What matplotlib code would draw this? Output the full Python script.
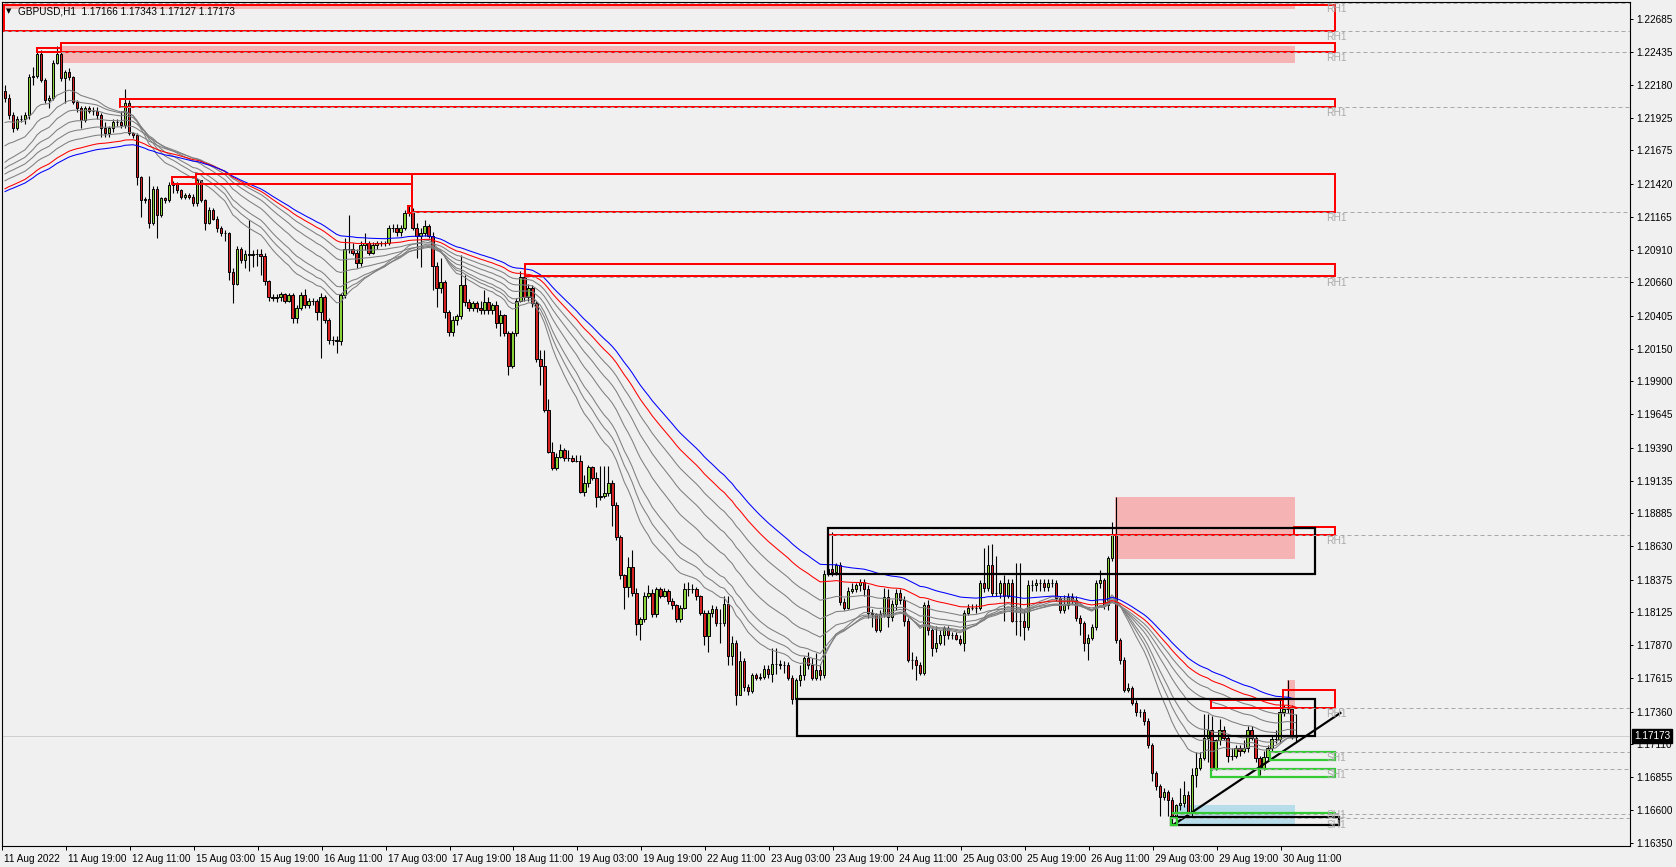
import numpy as np
import matplotlib
matplotlib.use("Agg")
import matplotlib.pyplot as plt
from matplotlib.patches import Rectangle
from matplotlib.transforms import blended_transform_factory, ScaledTranslation

plt.rcParams['font.family'] = ['Liberation Sans', 'DejaVu Sans']

# ---------------- data (GBPUSD H1, bar index 0 = 11 Aug 03:00) ----------------
first_open = 1.2213
closes = [
1.2208,1.2195,1.2185,1.2192,1.2192,1.2195,1.2224,1.2225,1.2242,1.2222,
1.2206,1.2208,1.2235,1.2242,1.2223,1.2228,1.2224,1.2205,1.2200,1.2191,
1.2200,1.2198,1.2198,1.2195,1.2185,1.2181,1.2185,1.2189,1.2189,1.2187,
1.2204,1.2181,1.2179,1.2147,1.2129,1.2130,1.2112,1.2138,1.2118,1.2131,
1.2129,1.2141,1.2142,1.2137,1.2132,1.2133,1.2132,1.2127,1.2145,1.2129,
1.2112,1.2122,1.2115,1.2108,1.2104,1.2104,1.2074,1.2065,1.2092,1.2083,
1.2088,1.2087,1.2088,1.2088,1.2086,1.2067,1.2055,1.2054,1.2055,1.2057,
1.2052,1.2056,1.2039,1.2046,1.2056,1.2049,1.2052,1.2052,1.2043,1.2055,
1.2037,1.2022,1.2022,1.2021,1.2056,1.2092,1.2092,1.2089,1.2081,1.2095,
1.2096,1.2089,1.2095,1.2096,1.2096,1.2096,1.2108,1.2108,1.2105,1.2108,
1.2119,1.2120,1.2108,1.2102,1.2104,1.2109,1.2102,1.2079,1.2062,1.2066,
1.2043,1.2028,1.2037,1.2040,1.2064,1.2051,1.2046,1.2050,1.2046,1.2045,
1.2051,1.2045,1.2049,1.2035,1.2041,1.2027,1.2002,1.2027,1.2052,1.2070,
1.2055,1.2062,1.2050,1.2007,1.2002,1.1968,1.1936,1.1923,1.1932,1.1937,
1.1931,1.1931,1.1929,1.1929,1.1905,1.1912,1.1924,1.1916,1.1901,1.1902,
1.1904,1.1912,1.1895,1.1870,1.1841,1.1832,1.1847,1.1827,1.1803,1.1807,
1.1825,1.1827,1.1811,1.1830,1.1825,1.1829,1.1821,1.1818,1.1807,1.1816,
1.1830,1.1830,1.1830,1.1825,1.1812,1.1794,1.1812,1.1815,1.1804,1.1804,
1.1819,1.1779,1.1789,1.1749,1.1775,1.1755,1.1752,1.1764,1.1762,1.1763,
1.1769,1.1765,1.1773,1.1773,1.1772,1.1772,1.1762,1.1746,1.1760,1.1764,
1.1777,1.1772,1.1762,1.1768,1.1764,1.1842,1.1846,1.1843,1.1849,1.1820,
1.1816,1.1829,1.1830,1.1833,1.1836,1.1830,1.1812,1.1811,1.1799,1.1811,
1.1824,1.1809,1.1819,1.1827,1.1822,1.1806,1.1776,1.1776,1.1772,1.1766,
1.1818,1.1799,1.1785,1.1789,1.1795,1.1800,1.1795,1.1795,1.1792,1.1789,
1.1812,1.1816,1.1816,1.1816,1.1835,1.1831,1.1849,1.1827,1.1827,1.1835,
1.1825,1.1835,1.1806,1.1806,1.1806,1.1801,1.1833,1.1833,1.1835,1.1835,
1.1832,1.1835,1.1835,1.1823,1.1814,1.1818,1.1824,1.1822,1.1808,1.1804,
1.1789,1.1793,1.1801,1.1835,1.1837,1.1818,1.1854,1.1872,1.1791,1.1776,
1.1753,1.1754,1.1743,1.1736,1.1736,1.1729,1.1710,1.1689,1.1679,1.1670,
1.1674,1.1668,1.1654,1.1664,1.1666,1.1672,1.1658,1.1687,1.1693,1.1700,
1.1716,1.1722,1.1692,1.1714,1.1722,1.1716,1.1702,1.1702,1.1708,1.1706,
1.1708,1.1722,1.1716,1.1700,1.1693,1.1701,1.1708,1.1715,1.1715,1.1736,
1.1738,1.1738,1.17166,1.17173]
highs = [
1.2218,1.2211,1.2197,1.2194,1.2195,1.2197,1.2226,1.2232,1.2245,1.2245,
1.2223,1.2210,1.2237,1.2248,1.2244,1.2229,1.2231,1.2225,1.2206,1.2202,
1.2202,1.2202,1.2201,1.2201,1.2196,1.2189,1.2186,1.2192,1.2192,1.2198,
1.2215,1.2206,1.2182,1.2181,1.2148,1.2132,1.2148,1.2140,1.2140,1.2132,
1.2132,1.2143,1.2144,1.2143,1.2138,1.2135,1.2135,1.2134,1.2146,1.2145,
1.2130,1.2124,1.2123,1.2117,1.2109,1.2106,1.2105,1.2077,1.2094,1.2093,
1.2091,1.2114,1.2091,1.2092,1.2092,1.2089,1.2068,1.2057,1.2057,1.2059,
1.2058,1.2058,1.2058,1.2049,1.2059,1.2061,1.2054,1.2054,1.2053,1.2058,
1.2056,1.2039,1.2025,1.2025,1.2058,1.2100,1.2118,1.2096,1.2092,1.2098,
1.2104,1.2098,1.2097,1.2098,1.2098,1.2098,1.2110,1.2111,1.2111,1.2110,
1.2122,1.2125,1.2123,1.2112,1.2108,1.2114,1.2111,1.2105,1.2082,1.2085,
1.2068,1.2045,1.2040,1.2042,1.2087,1.2072,1.2053,1.2052,1.2052,1.2052,
1.2060,1.2055,1.2050,1.2052,1.2045,1.2042,1.2029,1.2029,1.2054,1.2075,
1.2077,1.2065,1.2064,1.2052,1.2014,1.2014,1.1976,1.1943,1.1935,1.1942,
1.1939,1.1937,1.1933,1.1933,1.1933,1.1918,1.1926,1.1925,1.1920,1.1925,
1.1925,1.1925,1.1914,1.1897,1.1872,1.1842,1.1855,1.1860,1.1831,1.1809,
1.1828,1.1833,1.1830,1.1832,1.1832,1.1831,1.1830,1.1823,1.1819,1.1818,
1.1835,1.1836,1.1834,1.1832,1.1826,1.1814,1.1814,1.1818,1.1817,1.1815,
1.1825,1.1825,1.1794,1.1791,1.1783,1.1777,1.1757,1.1766,1.1766,1.1766,
1.1772,1.1772,1.1785,1.1785,1.1776,1.1775,1.1774,1.1764,1.1762,1.1772,
1.1779,1.1782,1.1777,1.1781,1.1773,1.1845,1.1874,1.1874,1.1850,1.1851,
1.1823,1.1832,1.1835,1.1835,1.1838,1.1838,1.1833,1.1815,1.1812,1.1814,
1.1831,1.1830,1.1822,1.1830,1.1830,1.1825,1.1808,1.1782,1.1779,1.1774,
1.1820,1.1822,1.1800,1.1802,1.1799,1.1802,1.1802,1.1797,1.1797,1.1795,
1.1814,1.1819,1.1819,1.1819,1.1837,1.1862,1.1864,1.1865,1.1856,1.1837,
1.1841,1.1838,1.1838,1.1850,1.1850,1.1814,1.1837,1.1837,1.1838,1.1838,
1.1838,1.1838,1.1838,1.1837,1.1825,1.1826,1.1827,1.1827,1.1825,1.1810,
1.1806,1.1796,1.1803,1.1837,1.1845,1.1839,1.1856,1.1882,1.1901,1.1793,
1.1778,1.1758,1.1756,1.1745,1.1738,1.1738,1.1731,1.1712,1.1690,1.1680,
1.1677,1.1676,1.1670,1.1665,1.1677,1.1683,1.1675,1.1693,1.1705,1.1705,
1.1734,1.1734,1.1733,1.1715,1.1730,1.1725,1.1719,1.1708,1.1710,1.1710,
1.1714,1.1725,1.1725,1.1718,1.1702,1.1706,1.1710,1.1718,1.1722,1.1745,
1.1741,1.1760,1.1741,1.17343]
lows = [
1.2205,1.2192,1.2182,1.2183,1.2189,1.2188,1.2192,1.2218,1.2223,1.2220,
1.2204,1.2200,1.2206,1.2234,1.2221,1.2204,1.2222,1.2203,1.2197,1.2185,
1.2189,1.2196,1.2195,1.2192,1.2178,1.2178,1.2178,1.2182,1.2186,1.2185,
1.2185,1.2179,1.2177,1.2141,1.2116,1.2127,1.2108,1.2110,1.2100,1.2116,
1.2127,1.2128,1.2135,1.2135,1.2130,1.2130,1.2130,1.2125,1.2125,1.2128,
1.2106,1.2111,1.2114,1.2105,1.2102,1.2098,1.2068,1.2050,1.2064,1.2081,
1.2077,1.2075,1.2078,1.2079,1.2072,1.2064,1.2052,1.2052,1.2051,1.2052,
1.2050,1.2051,1.2035,1.2035,1.2045,1.2046,1.2046,1.2049,1.2037,1.2008,
1.2035,1.2019,1.2018,1.2012,1.2018,1.2054,1.2089,1.2087,1.2077,1.2079,
1.2091,1.2087,1.2088,1.2092,1.2094,1.2094,1.2095,1.2105,1.2102,1.2102,
1.2106,1.2117,1.2106,1.2085,1.2078,1.2102,1.2100,1.2060,1.2047,1.2058,
1.2039,1.2025,1.2025,1.2033,1.2038,1.2048,1.2044,1.2044,1.2043,1.2042,
1.2042,1.2042,1.2042,1.2031,1.2025,1.2025,1.1995,1.2000,1.2025,1.2051,
1.2052,1.2052,1.2047,1.2005,1.1987,1.1966,1.1935,1.1922,1.1922,1.1931,
1.1929,1.1929,1.1928,1.1928,1.1904,1.1902,1.1909,1.1914,1.1893,1.1899,
1.1900,1.1902,1.1879,1.1868,1.1838,1.1815,1.1824,1.1825,1.1795,1.1791,
1.1805,1.1823,1.1809,1.1809,1.1823,1.1824,1.1819,1.1815,1.1805,1.1805,
1.1815,1.1825,1.1827,1.1822,1.1810,1.1787,1.1782,1.1809,1.1802,1.1789,
1.1802,1.1772,1.1772,1.1741,1.1749,1.1752,1.1749,1.1750,1.1760,1.1760,
1.1761,1.1762,1.1759,1.1765,1.1769,1.1766,1.1760,1.1742,1.1743,1.1756,
1.1760,1.1769,1.1760,1.1760,1.1760,1.1762,1.1840,1.1840,1.1841,1.1818,
1.1814,1.1815,1.1827,1.1828,1.1829,1.1825,1.1808,1.1801,1.1797,1.1797,
1.1809,1.1801,1.1806,1.1814,1.1819,1.1802,1.1774,1.1769,1.1760,1.1764,
1.1764,1.1795,1.1779,1.1782,1.1787,1.1787,1.1792,1.1792,1.1791,1.1787,
1.1783,1.1810,1.1814,1.1812,1.1814,1.1828,1.1829,1.1825,1.1825,1.1823,
1.1806,1.1823,1.1805,1.1795,1.1794,1.1791,1.1799,1.1829,1.1829,1.1829,
1.1829,1.1829,1.1832,1.1821,1.1812,1.1812,1.1815,1.1819,1.1806,1.1795,
1.1783,1.1776,1.1791,1.1799,1.1831,1.1815,1.1814,1.1852,1.1789,1.1773,
1.1751,1.1751,1.1741,1.1733,1.1732,1.1726,1.1708,1.1683,1.1676,1.1656,
1.1668,1.1656,1.1649,1.1650,1.1660,1.1663,1.1654,1.1656,1.1678,1.1691,
1.1699,1.1697,1.1691,1.1691,1.1710,1.1714,1.1697,1.1699,1.1700,1.1702,
1.1704,1.1705,1.1714,1.1697,1.1687,1.1691,1.1699,1.1705,1.1712,1.1712,
1.1733,1.1735,1.1715,1.17127]

# x-axis labels every 16 bars
tick_bars = list(range(0, 321, 16))
tick_labels = ["11 Aug 2022", "11 Aug 19:00", "12 Aug 11:00", "15 Aug 03:00", "15 Aug 19:00",
               "16 Aug 11:00", "17 Aug 03:00", "17 Aug 19:00", "18 Aug 11:00", "19 Aug 03:00",
               "19 Aug 19:00", "22 Aug 11:00", "23 Aug 03:00", "23 Aug 19:00", "24 Aug 11:00",
               "25 Aug 03:00", "25 Aug 19:00", "26 Aug 11:00", "29 Aug 03:00", "29 Aug 19:00",
               "30 Aug 11:00"]
price_ticks = [1.22685, 1.22435, 1.22180, 1.21925, 1.21675, 1.21420, 1.21165, 1.20910, 1.20660,
               1.20405, 1.20150, 1.19900, 1.19645, 1.19390, 1.19135, 1.18885, 1.18630, 1.18375,
               1.18125, 1.17870, 1.17615, 1.17360, 1.17110, 1.16855, 1.16600, 1.16350]

# moving averages: period, value at first bar, colour
ma_periods = [20, 25, 30, 40, 50, 60, 70, 80]
ma_seeds = [1.2187, 1.2168, 1.2155, 1.2151, 1.2147, 1.2142, 1.2136, 1.2134]
ma_colors = ['#7F7F7F'] * 6 + ['#FF0000', '#0000FF']

# drawn objects (bar index start, bar index end, price low, price high)
pink_zones = [(-0.3, 322.9, 1.2276, 1.2279), (13.9, 322.9, 1.2235, 1.2248),
              (277.9, 322.9, 1.1853, 1.1901), (320.9, 322.9, 1.1739, 1.1760)]
blue_zones = [(293.2, 322.9, 1.1649, 1.1664)]
resist_boxes = [(-0.3, 332.9, 1.2259, 1.2279), (13.9, 332.9, 1.2243, 1.2250),
                (28.7, 332.9, 1.2201, 1.2207), (101.9, 332.9, 1.2120, 1.2149),
                (130.2, 332.9, 1.2071, 1.2080), (322.7, 332.9, 1.1872, 1.1878),
                (319.9, 332.9, 1.1739, 1.1753)]
red_small = [(7.9, 13.9, 1.2243, 1.2246), (47.9, 101.9, 1.2142, 1.2149),
             (41.9, 47.9, 1.2142, 1.2147), (100.9, 101.9, 1.2119, 1.2125),
             (301.9, 319.9, 1.1739, 1.1745)]
red_lines = [(206.2, 322.7, 1.1872)]
black_boxes = [(205.9, 327.9, 1.1842, 1.1877), (198.2, 327.9, 1.17173, 1.1746),
               (291.9, 333.9, 1.1649, 1.1655)]
trend_line = [(292.4, 1.1649), (334.2, 1.1735)]
green_boxes = [(316.7, 332.9, 1.1699, 1.1705), (301.9, 313.9, 1.1686, 1.1692),
               (313.9, 332.9, 1.1686, 1.1692), (291.9, 293.2, 1.1649, 1.1654)]
green_lines = [(292.4, 332.9, 1.1658)]
# level price, start bar, label, label offset (px below the line)
levels = [(1.2281, -0.3, 'RH1', 6), (1.2259, -0.3, 'RH1', 6), (1.2243, 13.9, 'RH1', 6),
          (1.2201, 28.7, 'RH1', 6), (1.2120, 101.9, 'RH1', 6), (1.2070, 130.2, 'RH1', 6),
          (1.1872, 206.2, 'RH1', 6), (1.1739, 319.9, 'RH1', 6), (1.1705, 316.7, 'SH1', 6),
          (1.1692, 301.9, 'SH1', 6), (1.1657, 292.4, 'SH1', 1), (1.1654, 291.9, 'SH1', 7)]
label_bar = 330.7
last_price = 1.17173
title = "GBPUSD,H1  1.17166 1.17343 1.17127 1.17173"

# ---------------- figure ----------------
W, H = 1676, 867
BG = '#F0F0F0'
fig = plt.figure(figsize=(W / 100, H / 100), dpi=100, facecolor=BG)
ax = fig.add_axes([2 / W, 21 / H, 1628 / W, 844 / H], facecolor=BG)
ax.set_xlim(-0.325, 406.675)
ax.set_ylim(1.16327, 1.22816)
PX = 0.72

c = np.array(closes)
hi = np.array(highs)
lo = np.array(lows)
o = np.r_[first_open, c[:-1]]  # hourly bars open at the prior close
x = np.arange(len(c))

# background fills
for x0, x1, p0, p1 in pink_zones:
    ax.add_patch(Rectangle((x0, p0), x1 - x0, p1 - p0, fc='#F5B3B3', ec='none', zorder=1))
for x0, x1, p0, p1 in blue_zones:
    ax.add_patch(Rectangle((x0, p0), x1 - x0, p1 - p0, fc='#B7DDEA', ec='none', zorder=1))

ax.axhline(last_price, color='#CFCFCF', lw=PX, zorder=1.5)

# candles
ax.vlines(x, lo, hi, color='black', lw=PX * 1.1, zorder=3)
up = c >= o
bot = np.minimum(o, c)
hgt = np.abs(c - o)
ax.bar(x[up], hgt[up], bottom=bot[up], width=0.62, color='#8AD23A', edgecolor='black',
       linewidth=0.7, zorder=4)
ax.bar(x[~up], hgt[~up], bottom=bot[~up], width=0.62, color='#D42222', edgecolor='black',
       linewidth=0.7, zorder=4)

# moving averages
for n, s, col in zip(ma_periods, ma_seeds, ma_colors):
    a = 2.0 / (n + 1)
    e = s
    vals = []
    for v in c:
        e = e + a * (v - e)
        vals.append(e)
    ax.plot(x, vals, color=col, lw=PX * 1.05, zorder=5)

# red resistance boxes
for x0, x1, p0, p1 in resist_boxes:
    ax.add_patch(Rectangle((x0, p0), x1 - x0, p1 - p0, fc='none', ec='red', lw=2 * PX, zorder=6,
                           joinstyle='miter'))
for x0, x1, p0, p1 in red_small:
    ax.add_patch(Rectangle((x0, p0), x1 - x0, p1 - p0, fc='none', ec='red', lw=2 * PX, zorder=6))
for x0, x1, p in red_lines:
    ax.plot([x0, x1], [p, p], color='red', lw=2 * PX, zorder=6)

for x0, x1, p0, p1 in black_boxes:
    ax.add_patch(Rectangle((x0, p0), x1 - x0, p1 - p0, fc='none', ec='black', lw=2.2 * PX, zorder=6))
ax.plot([trend_line[0][0], trend_line[1][0]], [trend_line[0][1], trend_line[1][1]],
        color='black', lw=2.2 * PX, zorder=6)
for x0, x1, p0, p1 in green_boxes:
    ax.add_patch(Rectangle((x0, p0), x1 - x0, p1 - p0, fc='none', ec='#33CC33', lw=2.2 * PX, zorder=6))
for x0, x1, p in green_lines:
    ax.plot([x0, x1], [p, p], color='#33CC33', lw=2.2 * PX, zorder=6)

# level dashed lines with labels
for p, x0, lab, off in levels:
    ax.plot([x0, 406.7], [p, p], color='#A8A8A8', lw=PX, ls=(0, (4, 3)), zorder=7)
    ax.annotate(lab, (label_bar, p), xytext=(0, -off), textcoords='offset pixels',
                color='#ABABAB', fontsize=7.4, va='center', ha='left', zorder=7)

# axes styling
for sp in ax.spines.values():
    sp.set_color('black')
    sp.set_linewidth(1.1 * PX)
ax.yaxis.tick_right()
ax.set_yticks(price_ticks)
ax.set_yticklabels([f"{v:.5f}" for v in price_ticks])
ax.tick_params(axis='y', direction='out', length=3 * PX, width=PX, pad=2.5, labelsize=7.2,
               colors='black')
ax.set_xticks([b - 0.75 for b in tick_bars])
ax.set_xticklabels(tick_labels, ha='left')
ax.tick_params(axis='x', direction='out', length=4 * PX, width=PX, pad=3, labelsize=7.2)
for lbl in ax.get_xticklabels():
    lbl.set_transform(lbl.get_transform() + ScaledTranslation(2 / 100, 0, fig.dpi_scale_trans))

# current price tag
tr = blended_transform_factory(ax.transAxes, ax.transData)
ax.text(1.0, last_price, f"{last_price:.5f}",
        transform=tr + ScaledTranslation(4 / 100, 0, fig.dpi_scale_trans),
        color='white', fontsize=7.2, va='center', ha='left', zorder=10, clip_on=False,
        bbox=dict(boxstyle='square,pad=0.18', fc='black', ec='black'))

# title
fig.text(6 / W, 1 - 11 / H, "\u25BC", fontsize=5, va='center', ha='left', family='DejaVu Sans')
fig.text(18 / W, 1 - 11 / H, title, fontsize=7.2, va='center', ha='left', color='black')

fig.savefig("out.png", dpi=100, facecolor=BG)
